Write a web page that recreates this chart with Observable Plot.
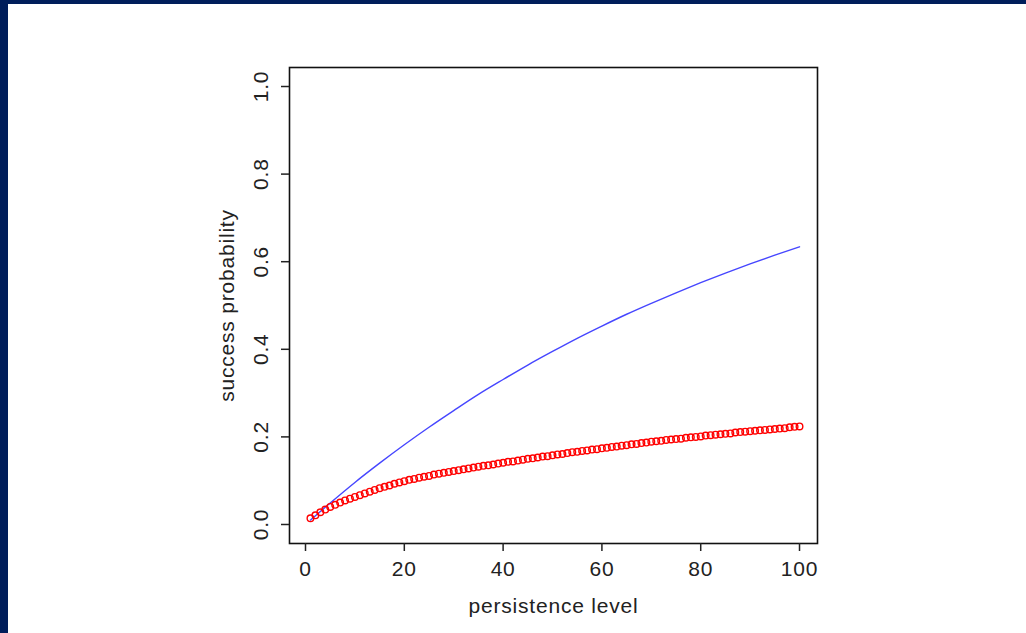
<!DOCTYPE html>
<html>
<head>
<meta charset="utf-8">
<script src="https://cdn.jsdelivr.net/npm/d3@7"></script>
<script src="https://cdn.jsdelivr.net/npm/@observablehq/plot@0.6"></script>
<style>
  html, body { margin: 0; padding: 0; background: #fff; width: 1026px; height: 633px; overflow: hidden; }
  #chart { position: absolute; left: 0; top: 0; }
  .bar-top { position: absolute; left: 0; top: 0; width: 1026px; height: 4px; background: #001e5b; }
  .bar-left { position: absolute; left: 0; top: 0; width: 8px; height: 633px; background: #001e5b; }
</style>
</head>
<body>
<div id="chart"></div>
<div class="bar-top"></div>
<div class="bar-left"></div>
<script>
// Red points: persistence level 1..100
const redLevels = d3.range(1, 101);
const redValues = [
  0.014, 0.021, 0.028, 0.034, 0.040, 0.045, 0.050, 0.055, 0.059, 0.063,
  0.067, 0.071, 0.075, 0.079, 0.083, 0.086, 0.089, 0.093, 0.096, 0.099,
  0.102, 0.104, 0.107, 0.109, 0.111, 0.114, 0.116, 0.118, 0.120, 0.122,
  0.124, 0.126, 0.128, 0.130, 0.132, 0.134, 0.135, 0.137, 0.139, 0.141,
  0.143, 0.144, 0.146, 0.148, 0.150, 0.151, 0.153, 0.155, 0.156, 0.158,
  0.160, 0.161, 0.163, 0.165, 0.166, 0.168, 0.169, 0.171, 0.172, 0.174,
  0.175, 0.177, 0.178, 0.180, 0.181, 0.183, 0.184, 0.186, 0.187, 0.189,
  0.190, 0.191, 0.193, 0.194, 0.195, 0.196, 0.198, 0.199, 0.200, 0.201,
  0.203, 0.204, 0.205, 0.206, 0.207, 0.208, 0.210, 0.211, 0.212, 0.213,
  0.214, 0.215, 0.216, 0.217, 0.218, 0.219, 0.220, 0.222, 0.223, 0.224
];
// Blue line read at these persistence levels
const blueLevels = [1, 5, 10, 15, 20, 25, 30, 35, 40, 45, 50, 55, 60, 65, 70, 75, 80, 85, 90, 95, 100];
const blueValues = [0.010, 0.049, 0.096, 0.140, 0.182, 0.222, 0.260, 0.297, 0.331, 0.364, 0.395,
                    0.425, 0.453, 0.480, 0.505, 0.529, 0.552, 0.574, 0.595, 0.615, 0.634];
const xTicks = [0, 20, 40, 60, 80, 100];
const yTicks = [0, 0.2, 0.4, 0.6, 0.8, 1.0];
const xLabel = "persistence level";
const yLabel = "success probability";

const red = redLevels.map((x, i) => ({x, y: redValues[i]}));
const blue = blueLevels.map((x, i) => ({x, y: blueValues[i]}));

const chart = Plot.plot({
  width: 1026,
  height: 633,
  marginLeft: 289,
  marginRight: 209,
  marginTop: 67,
  marginBottom: 90,
  style: {fontFamily: "'Liberation Sans', Arial, sans-serif", fontSize: "21px", letterSpacing: "0.8px", background: "transparent", color: "#222"},
  x: {domain: [-3.24, 103.64]},
  y: {domain: [-0.0434, 1.0434]},
  marks: [
    Plot.frame({stroke: "#111", strokeWidth: 1.6}),
    Plot.axisX(xTicks, {tickSize: 8, tickPadding: 10, strokeWidth: 1.5, label: null}),
    Plot.axisY(yTicks, {tickSize: 8, tickPadding: 14, tickRotate: -90, strokeWidth: 1.5, tickFormat: d3.format(".1f"), label: null}),
    Plot.text([xLabel], {frameAnchor: "bottom", dy: 63, lineAnchor: "middle", textAnchor: "middle", fill: "#222"}),
    Plot.text([yLabel], {frameAnchor: "left", dx: -62, rotate: -90, lineAnchor: "middle", textAnchor: "middle", fill: "#222"}),
    Plot.line(blue, {x: "x", y: "y", stroke: "#4646ff", strokeWidth: 1.4, curve: "monotone-x"}),
    Plot.dot(red, {x: "x", y: "y", r: 3.3, stroke: "#ff0000", strokeWidth: 1.4, fill: "none"})
  ]
});
document.getElementById("chart").appendChild(chart);
</script>
</body>
</html>
